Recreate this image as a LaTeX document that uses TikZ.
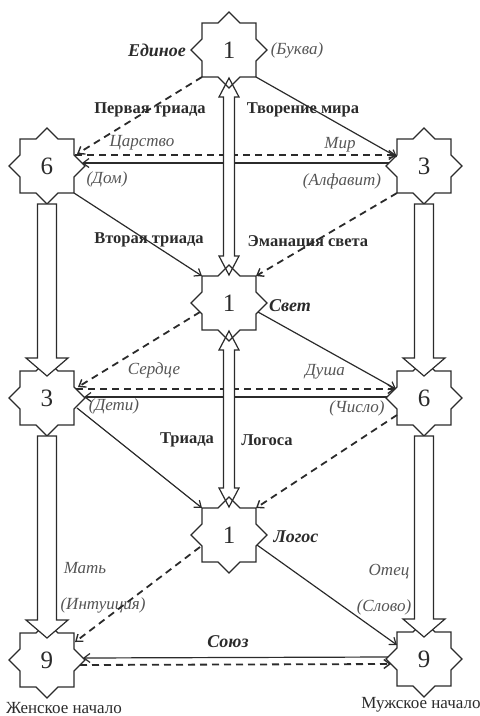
\documentclass[tikz,border=0pt]{standalone}
\usepackage{fontspec}
\setmainfont{Liberation Serif}
\usetikzlibrary{calc,arrows.meta}
\definecolor{ink}{HTML}{2B2B2B}
\definecolor{soft}{HTML}{555555}
\newcommand\dblarrow[2]{%
  \draw[hollow] ($(#1)+(0,28)$) -- ($(#1)+(10,47)$) -- ($(#1)+(5.5,47)$) -- ($(#2)+(5.5,-47)$) -- ($(#2)+(10,-47)$) -- ($(#2)+(0,-28)$) -- ($(#2)+(-10,-47)$) -- ($(#2)+(-5.5,-47)$) -- ($(#1)+(-5.5,47)$) -- ($(#1)+(-10,47)$) -- cycle;}
\newcommand\bigarrow[2]{%
  \draw[hollow] ($(#1)+(-9.5,38)$) -- ($(#1)+(9.5,38)$) -- ($(#2)+(9.5,-40)$) -- ($(#2)+(21,-40)$) -- ($(#2)+(0,-22)$) -- ($(#2)+(-21,-40)$) -- ($(#2)+(-9.5,-40)$) -- cycle;}
\begin{document}
\begin{tikzpicture}[x=1pt,y=-1pt,
  starnum/.style={inner sep=0pt, minimum size=54pt, text=ink, font=\fontsize{25}{25}\selectfont},
  starline/.style={draw=ink, line width=1.3pt, line join=miter},
  it/.style={text=soft, font=\fontsize{17}{17}\selectfont\itshape},
  bd/.style={text=ink, font=\fontsize{16.5}{16.5}\selectfont\bfseries},
  bi/.style={text=ink, font=\fontsize{18}{18}\selectfont\bfseries\itshape},
  rg/.style={text=ink, font=\fontsize{17}{17}\selectfont},
  solidarr/.style={draw=ink, line width=1.2pt, -{Straight Barb[length=6pt,width=9pt,line width=1.2pt]}},
  dasharr/.style={draw=ink, line width=1.8pt, dash pattern=on 7pt off 5pt, -{Straight Barb[length=6pt,width=9pt,line width=1.4pt]}},
  hollow/.style={draw=ink, line width=1.2pt, fill=white, line join=miter},
]
\useasboundingbox (0,0) rectangle (480,716);
\node[starnum] (T1) at (229,50) {1};
\node[starnum] (L6) at (47,166) {6};
\node[starnum] (R3) at (424,166) {3};
\node[starnum] (S1) at (229,303) {1};
\node[starnum] (L3) at (47,398) {3};
\node[starnum] (R6) at (424,398) {6};
\node[starnum] (G1) at (229,535) {1};
\node[starnum] (L9) at (47,660) {9};
\node[starnum] (R9) at (424,659) {9};

\node[bi] (lEdinoe) at (157,50) {Единое};
\node[it] (lBukva) at (297,50) {(Буква)};
\node[bd] (lPervaya) at (150,110) {Первая триада};
\node[bd] (lTvorenie) at (303,110) {Творение мира};
\node[it] (lCarstvo) at (142,143) {Царство};
\node[it] (lMir) at (340,145) {Мир};
\node[it] (lDom) at (107,179) {(Дом)};
\node[it] (lAlfavit) at (342,181) {(Алфавит)};
\node[bd] (lVtoraya) at (149,240) {Вторая триада};
\node[bd] (lEmanaciya) at (308,242) {Эманация света};
\node[bi] (lSvet) at (290,306) {Свет};
\node[it] (lSerdce) at (154,370) {Сердце};
\node[it] (lDusha) at (325,372) {Душа};
\node[it] (lDeti) at (114,406) {(Дети)};
\node[it] (lChislo) at (357,408) {(Число)};
\node[bd] (lTriada) at (187,440) {Триада};
\node[bd] (lLogosa) at (267,440) {Логоса};
\node[bi] (lLogos) at (296,537) {Логос};
\node[it] (lMat) at (85,568) {Мать};
\node[it] (lIntuic) at (103,605) {(Интуиция)};
\node[it] (lOtec) at (389,572) {Отец};
\node[it] (lSlovo) at (384,607) {(Слово)};
\node[bi] (lSoyuz) at (228,642) {Союз};
\node[rg] (lZhen) at (64,708) {Женское начало};
\node[rg] (lMuzh) at (421,705) {Мужское начало};

\draw[dasharr] ($(T1)+(-27,27)$) -- ($(L6)+(30,-12)$);
\draw[solidarr] ($(T1)+(27,27)$) -- ($(R3)+(-27,-9)$);
\draw[solidarr] ($(R3)+(-35,-3)$) -- ($(L6)+(35,-3)$);
\draw[dasharr] ($(L6)+(28,-11)$) -- ($(R3)+(-28,-11)$);
\draw[solidarr] ($(L6)+(27,27)$) -- ($(S1)+(-27,-27)$);
\draw[dasharr] ($(R3)+(-27,27)$) -- ($(S1)+(27,-27)$);
\draw[dasharr] ($(S1)+(-29,9)$) -- ($(L3)+(31,-11)$);
\draw[solidarr] ($(S1)+(29,9)$) -- ($(R6)+(-28,-9)$);
\draw[dasharr] ($(L3)+(29,-9)$) -- ($(R6)+(-29,-9)$);
\draw[solidarr] ($(R6)+(-37,-1)$) -- ($(L3)+(37,-1)$);
\draw[solidarr] ($(L3)+(30,10)$) -- ($(G1)+(-27,-27)$);
\draw[dasharr] ($(R6)+(-27,17)$) -- ($(G1)+(27,-27)$);
\draw[dasharr] ($(G1)+(-29,12)$) -- ($(L9)+(28,-18)$);
\draw[solidarr] ($(G1)+(28,10)$) -- ($(R9)+(-27,-14)$);
\draw[solidarr] ($(R9)+(-36,-2)$) -- ($(L9)+(36,-2)$);
\draw[dasharr] ($(L9)+(33,5)$) -- ($(R9)+(-33,5)$);

\dblarrow{T1}{S1}
\dblarrow{S1}{G1}

\foreach \n in {T1,L6,R3,S1,L3,R6,G1,L9,R9}
  \draw[starline, shift={(\n)}] (0,-38) -- (11,-27) -- (27,-27) -- (27,-11) -- (38,0) -- (27,11) -- (27,27) -- (11,27) -- (0,38) -- (-11,27) -- (-27,27) -- (-27,11) -- (-38,0) -- (-27,-11) -- (-27,-27) -- (-11,-27) -- cycle;

\bigarrow{L6}{L3}
\bigarrow{L3}{L9}
\bigarrow{R3}{R6}
\bigarrow{R6}{R9}
\end{tikzpicture}
\end{document}
